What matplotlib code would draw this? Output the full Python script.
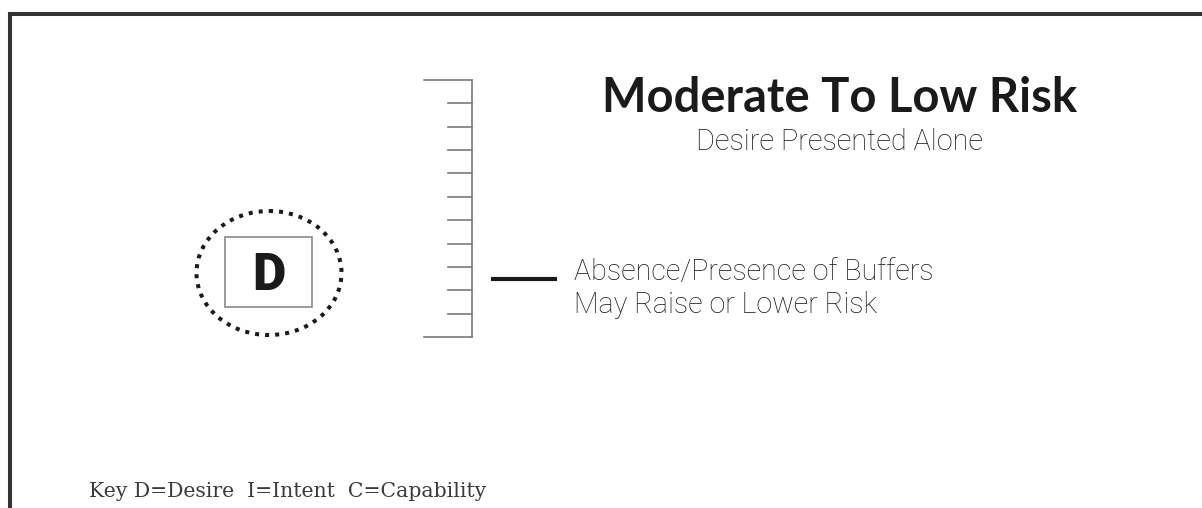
import numpy as np
import matplotlib
matplotlib.use("Agg")
import matplotlib.pyplot as plt
from matplotlib.patches import Ellipse, Rectangle

# texts of the diagram
title = "Moderate To Low Risk"
subtitle = "Desire Presented Alone"
buffer_lines = ["Absence/Presence of Buffers", "May Raise or Lower Risk"]
box_letter = "D"
key_text = "Key D=Desire  I=Intent  C=Capability"

# risk scale: number of levels on the ruler and the level the marker points at
n_levels = 12
marker_level = 2.5  # counted from the bottom

W, H = 1202, 508


def main():
    fig = plt.figure(figsize=(W / 100, H / 100), dpi=100)
    fig.patch.set_facecolor("white")
    ax = fig.add_axes([0, 0, 1, 1])
    ax.set_xlim(0, W)
    ax.set_ylim(H, 0)
    ax.axis("off")

    # frame (top and left only)
    ax.plot([10, W + 5], [14, 14], color="#333333", lw=2.9, solid_capstyle="projecting")
    ax.plot([10, 10], [14, H + 5], color="#333333", lw=2.9, solid_capstyle="projecting")

    # ruler
    top, bottom = 80, 337
    levels = np.linspace(top, bottom, n_levels)
    ax.plot([472, 472], [top, bottom], color="#7a7a7a", lw=1.2)
    for i, y in enumerate(levels):
        x0 = 424 if i in (0, n_levels - 1) else 448
        ax.plot([x0, 472], [y, y], color="#7a7a7a", lw=1.2)

    # marker line
    step = (bottom - top) / (n_levels - 1)
    ym = bottom - marker_level * step
    ax.plot([491, 557], [ym, ym], color="#1a1a1a", lw=3.0, solid_capstyle="butt")

    # dotted ellipse with box and letter
    ax.add_patch(Ellipse((269, 273), 145, 124, fill=False, edgecolor="#1a1a1a",
                         lw=2.9, linestyle=(0, (1, 1.5))))
    ax.add_patch(Rectangle((225, 237), 87, 70, fill=False, edgecolor="#8a8a8a", lw=1.2))
    ax.text(268.5, 290, box_letter, ha="center", va="baseline", fontsize=37,
            fontweight="heavy", family="Roboto", color="#1a1a1a")

    # titles
    ax.text(840, 112, title, ha="center", va="baseline", fontsize=33.9,
            fontweight="bold", family="Lato", color="#1a1a1a")
    ax.text(840, 150, subtitle, ha="center", va="baseline", fontsize=20.8,
            fontweight="light", family="Roboto", color="#1a1a1a")

    # buffer note
    for i, line in enumerate(buffer_lines):
        ax.text(574, 280 + 33 * i, line, ha="left", va="baseline", fontsize=20.6,
                fontweight="light", family="Roboto", color="#1a1a1a")

    # key
    ax.text(89, 497, key_text, ha="left", va="baseline", fontsize=14.7,
            family="DejaVu Serif", color="#3a3a3a")

    fig.savefig("out.png", dpi=100, facecolor="white")


if __name__ == "__main__":
    main()
